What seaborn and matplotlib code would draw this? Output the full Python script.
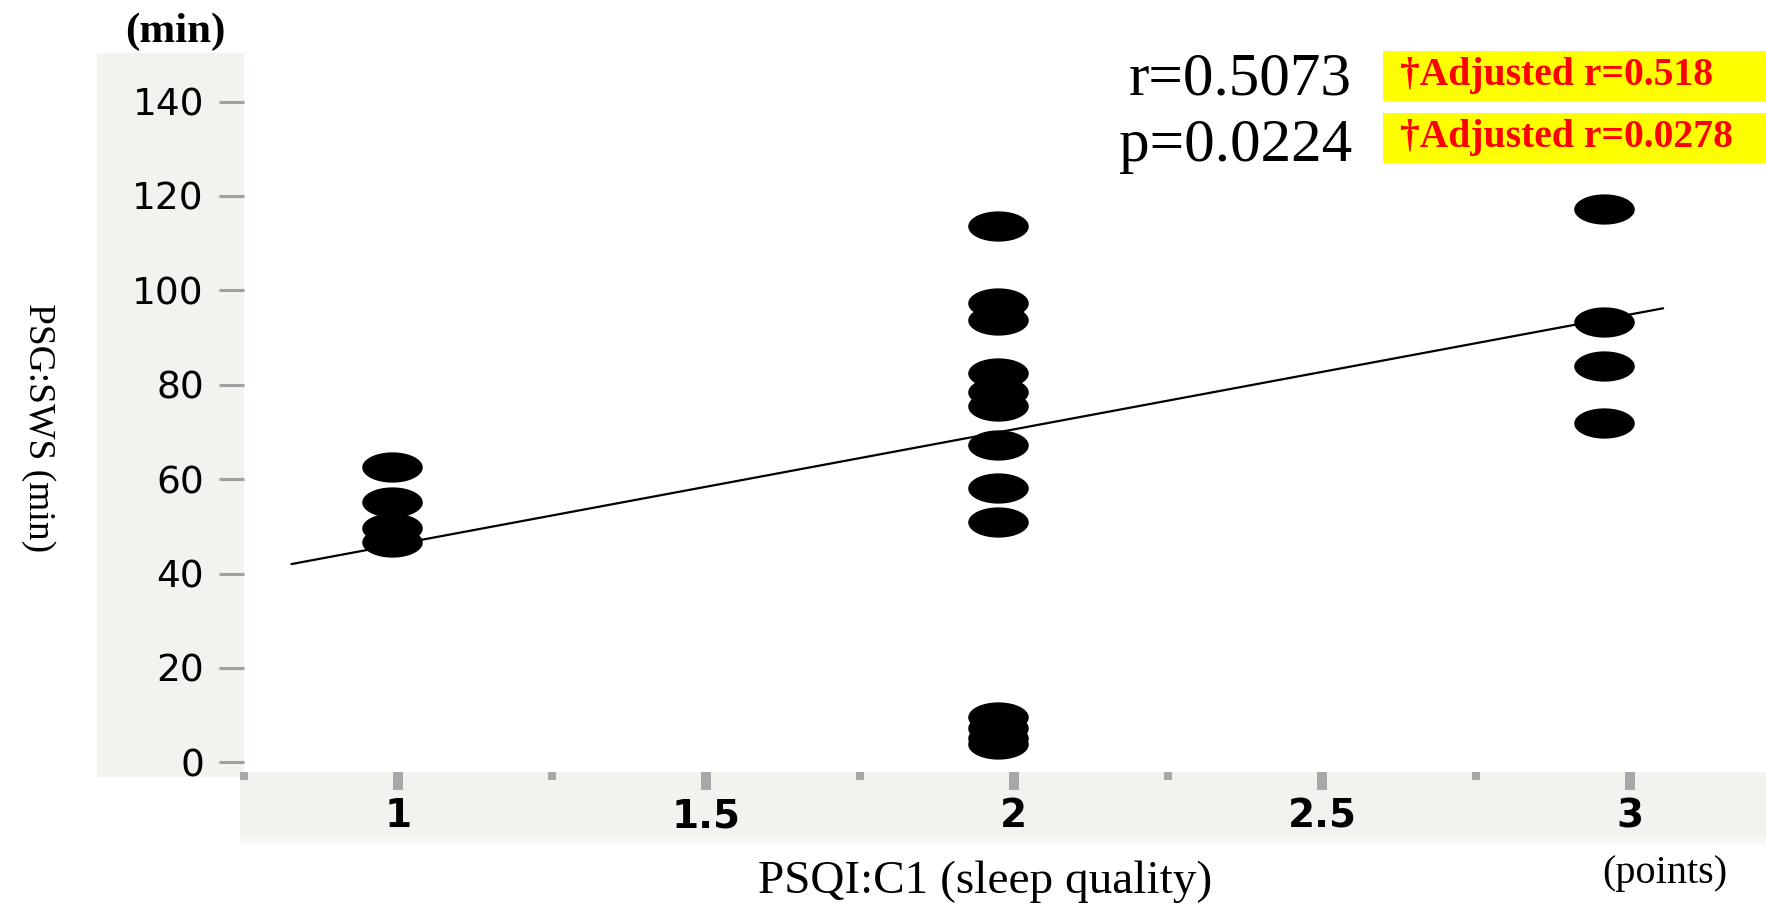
import numpy as np
import matplotlib
matplotlib.use("Agg")
import matplotlib.pyplot as plt
import seaborn as sns
import pandas as pd
from matplotlib.patches import Rectangle
from matplotlib.markers import MarkerStyle

# ---------------- data ----------------
score_c1 = [0.99, 0.99, 0.99, 0.99]
sws_c1 = [62.6, 55.2, 49.6, 46.7]
score_c2 = [1.974] * 13
sws_c2 = [113.6, 97.3, 93.7, 82.4, 78.5, 75.4, 67.2, 58.1, 51.0, 9.7, 7.2, 5.1, 3.8]
score_c3 = [2.958, 2.958, 2.958, 2.958]
sws_c3 = [117.2, 93.4, 84.0, 71.8]
fit_x = [0.827, 3.054]
fit_y = [42.0, 96.2]
x_ticks = [1, 1.5, 2, 2.5, 3]
x_tick_labels = ["1", "1.5", "2", "2.5", "3"]
x_minor_ticks = [0.75, 1.25, 1.75, 2.25, 2.75]
y_ticks = [0, 20, 40, 60, 80, 100, 120, 140]
y_tick_labels = ["0", "20", "40", "60", "80", "100", "120", "140"]
stat_labels = ["r=0.5073", "p=0.0224"]
adjusted_labels = ["\u2020Adjusted r=0.518", "\u2020Adjusted r=0.0278"]

df = pd.DataFrame({
    "score": score_c1 + score_c2 + score_c3,
    "sws": sws_c1 + sws_c2 + sws_c3,
})

# ---------------- figure ----------------
sns.set_theme(style="white")
plt.rcParams["font.family"] = ["Liberation Serif", "DejaVu Serif"]
plt.rcParams["text.color"] = "black"
plt.rcParams["xtick.labelcolor"] = "black"
plt.rcParams["ytick.labelcolor"] = "black"

W, H = 1766, 905
fig = plt.figure(figsize=(W / 100, H / 100), dpi=100)
fig.patch.set_facecolor("white")

def fx(px):
    return px / W

def fy(py):
    return 1 - py / H

panel = "#f2f2ee"
# y-axis panel and x-axis panel backgrounds
fig.add_artist(Rectangle((fx(97), fy(777)), fx(244) - fx(97), fy(53) - fy(777),
                         transform=fig.transFigure, facecolor=panel, edgecolor="none", zorder=-2))
fig.add_artist(Rectangle((fx(240), fy(845)), fx(1766) - fx(240), fy(837) - fy(845),
                         transform=fig.transFigure, facecolor="#f8f8f6", edgecolor="none", zorder=-2))
fig.add_artist(Rectangle((fx(240), fy(837)), fx(1766) - fx(240), fy(772) - fy(837),
                         transform=fig.transFigure, facecolor=panel, edgecolor="none", zorder=-2))

ax = fig.add_axes([fx(244), fy(772), fx(1766) - fx(244), fy(53) - fy(772)])
ax.patch.set_alpha(0)
for s in ax.spines.values():
    s.set_visible(False)

# regression line
sns.lineplot(x=fit_x, y=fit_y, color="black", linewidth=1.6, ax=ax, zorder=2)

# ellipse markers
t = np.linspace(0, 2 * np.pi, 80)
verts = np.column_stack([np.cos(t), 0.5 * np.sin(t)])
ell = MarkerStyle(verts)
sns.scatterplot(data=df, x="score", y="sws", marker=ell, s=1900, color="black",
                linewidth=0, ax=ax, legend=False, zorder=3)

ax.set_xlim(0.75, 3.221)
ax.set_ylim(-2.06, 150.3)
ax.set_xlabel("")
ax.set_ylabel("")

ax.set_xticks(x_ticks)
ax.set_xticklabels(x_tick_labels)
ax.set_xticks(x_minor_ticks, minor=True)
ax.set_yticks(y_ticks)
ax.set_yticklabels(y_tick_labels)

tick_gray = "#a8a8a8"
ax.tick_params(axis="x", which="major", direction="out", length=13, width=7.2,
               color=tick_gray, pad=5, labelsize=28, bottom=True, labelcolor="black")
ax.tick_params(axis="x", which="minor", direction="out", length=5.8, width=5.8,
               color=tick_gray, bottom=True)
ax.tick_params(axis="y", which="major", direction="out", length=18, width=2.2,
               color="#a0a0a0", pad=10.8, labelsize=27, left=True, labelcolor="black")
for lbl in ax.get_xticklabels():
    lbl.set_fontfamily("DejaVu Sans")
    lbl.set_fontweight("bold")
for lbl in ax.get_yticklabels():
    lbl.set_fontfamily("DejaVu Sans")

# ---------------- texts ----------------
fig.text(fx(175), fy(32), "(min)", ha="center", va="center", fontsize=31, fontweight="bold")
fig.text(fx(38), fy(428), "PSG:SWS (min)", ha="center", va="center", fontsize=27, rotation=270)
fig.text(fx(985), fy(882), "PSQI:C1 (sleep quality)", ha="center", va="center", fontsize=34)
fig.text(fx(1665), fy(873), "(points)", ha="center", va="center", fontsize=29)

stat_y = [80, 146]
box_y = [(51, 101), (113, 163)]
for lab, adj, yc, (b0, b1) in zip(stat_labels, adjusted_labels, stat_y, box_y):
    fig.text(fx(1352), fy(yc), lab, ha="right", va="center", fontsize=44)
    fig.add_artist(Rectangle((fx(1383), fy(b1)), fx(1766) - fx(1383), fy(b0) - fy(b1),
                             transform=fig.transFigure, facecolor="#ffff00",
                             edgecolor="none", zorder=2))
    fig.text(fx(1400), fy((b0 + b1) / 2), adj, ha="left", va="center", fontsize=28.5,
             fontweight="bold", color="#ff0000", zorder=4)

fig.savefig("out.png", dpi=100)
